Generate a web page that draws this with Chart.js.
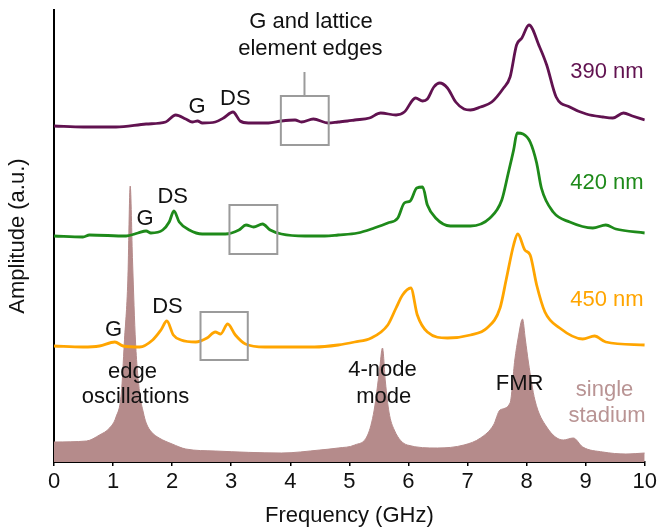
<!DOCTYPE html>
<html>
<head>
<meta charset="utf-8">
<script src="https://cdn.jsdelivr.net/npm/chart.js@4.4.1/dist/chart.umd.min.js"></script>
<style>
  html, body { margin: 0; padding: 0; background: #fff; }
  #spectra { display: block; }
</style>
</head>
<body>
<canvas id="spectra" width="660" height="529"></canvas>
<script>
// spectra, amplitude in arbitrary units (curves are offset)
const freq390 = [0, 0.5, 1.05, 1.56, 1.89, 2.06, 2.23, 2.34, 2.43, 2.51, 2.73, 2.87, 3.03, 3.15, 3.29, 3.63, 3.85, 4.08, 4.19, 4.39, 4.64, 4.81, 4.97, 5.09, 5.34, 5.53, 5.79, 5.93, 6.12, 6.24, 6.32, 6.43, 6.53, 6.66, 6.8, 6.94, 7.05, 7.22, 7.41, 7.61, 7.72, 7.83, 7.92, 8.04, 8.22, 8.34, 8.5, 8.73, 9.01, 9.29, 9.46, 9.64, 9.79, 10];
const amp390 = [336, 335, 335, 338, 340, 347, 343, 340, 341, 339, 340, 344, 350, 341, 339, 339, 341, 342, 340, 343, 339, 340, 341, 342, 344, 349, 347, 350, 364, 361, 363, 375, 379, 374, 360, 353, 352, 355, 360, 374, 385, 417, 424, 437, 415, 397, 365, 355, 348, 345, 344, 349, 346, 342];

const freq420 = [0, 0.49, 0.6, 1.22, 1.42, 1.56, 1.64, 1.84, 1.95, 2.03, 2.12, 2.29, 2.51, 2.9, 3.13, 3.25, 3.38, 3.53, 3.66, 3.85, 4.25, 4.58, 4.81, 5.14, 5.42, 5.65, 5.82, 5.93, 6.03, 6.14, 6.24, 6.32, 6.46, 6.71, 7.05, 7.38, 7.58, 7.69, 7.78, 7.84, 7.94, 8.06, 8.17, 8.25, 8.45, 8.73, 9.12, 9.34, 9.51, 10];
const amp420 = [226, 225, 227, 226, 229, 231, 229, 232, 240, 251, 240, 232, 228, 228, 232, 237, 235, 238, 232, 228, 226, 226, 227, 229, 234, 239, 244, 259, 261, 274, 275, 257, 244, 236, 236, 244, 262, 289, 312, 329, 328, 320, 299, 274, 250, 240, 234, 237, 233, 229];

const freq450 = [0, 0.49, 0.77, 1.03, 1.17, 1.45, 1.67, 1.81, 1.91, 2.02, 2.15, 2.4, 2.59, 2.73, 2.82, 2.94, 3.07, 3.24, 3.57, 4.41, 4.81, 5.09, 5.37, 5.65, 5.79, 5.9, 6.04, 6.15, 6.32, 6.66, 7.05, 7.33, 7.55, 7.66, 7.78, 7.85, 7.97, 8.06, 8.17, 8.31, 8.56, 8.95, 9.15, 9.34, 10];
const amp450 = [116, 115, 116, 120, 116, 115, 122, 132, 141, 127, 122, 120, 124, 130, 128, 138, 127, 118, 115, 115, 117, 120, 124, 137, 154, 167, 174, 147, 130, 124, 127, 134, 154, 184, 217, 228, 212, 207, 177, 150, 134, 123, 126, 120, 117];

const freqSingle = [0, 0.55, 0.77, 0.94, 1.05, 1.14, 1.19, 1.25, 1.29, 1.33, 1.38, 1.45, 1.51, 1.56, 1.65, 1.78, 2.0, 2.23, 2.73, 3.85, 4.5, 4.81, 5.09, 5.31, 5.42, 5.51, 5.56, 5.61, 5.67, 5.76, 5.98, 6.49, 6.94, 7.22, 7.44, 7.55, 7.72, 7.8, 7.86, 7.93, 7.98, 8.03, 8.14, 8.34, 8.62, 8.79, 8.95, 9.29, 9.68, 10];
const ampSingle = [20, 21, 27, 34, 45, 69, 119, 182, 276, 200, 120, 69, 50, 39, 30, 24, 18, 13, 11, 9, 12, 14, 17, 27, 52, 92, 114, 80, 50, 32, 17, 14, 17, 24, 37, 52, 59, 102, 125, 143, 122, 100, 62, 35, 22, 24, 15, 10, 8, 9];

const freqTicks = [0, 1, 2, 3, 4, 5, 6, 7, 8, 9, 10];
const seriesNames = ["390 nm", "420 nm", "450 nm", "single stadium"];

const FONT = "'Liberation Sans', Arial, sans-serif";
const purple = "#611250";
const green = "#1e8a1a";
const orange = "#ffa500";
const brown = "#b58b8b";

function points(xs, ys) {
  return xs.map((f, i) => ({ x: f, y: ys[i] }));
}

// text labels and boxes placed in data coordinates
const notes = [
  { text: "G and lattice", f: 4.35, a: 440, color: "#111" },
  { text: "element edges", f: 4.34, a: 413, color: "#111" },
  { text: "G", f: 2.42, a: 355, color: "#111" },
  { text: "DS", f: 3.07, a: 363, color: "#111" },
  { text: "G", f: 1.54, a: 243, color: "#111" },
  { text: "DS", f: 2.01, a: 265, color: "#111" },
  { text: "G", f: 1.01, a: 132, color: "#111" },
  { text: "DS", f: 1.92, a: 155, color: "#111" },
  { text: "edge", f: 1.33, a: 90, color: "#111" },
  { text: "oscillations", f: 1.38, a: 65, color: "#111" },
  { text: "4-node", f: 5.56, a: 92, color: "#111" },
  { text: "mode", f: 5.58, a: 65, color: "#111" },
  { text: "FMR", f: 7.88, a: 78, color: "#111" },
  { text: "single", f: 9.32, a: 72, color: "#b99494" },
  { text: "stadium", f: 9.36, a: 46, color: "#b99494" },
  { text: seriesNames[0], f: 9.36, a: 390, color: purple },
  { text: seriesNames[1], f: 9.36, a: 279, color: green },
  { text: seriesNames[2], f: 9.36, a: 162, color: orange },
];
const boxes = [
  { f0: 3.84, f1: 4.65, a0: 317, a1: 366 },
  { f0: 2.97, f1: 3.78, a0: 208, a1: 257 },
  { f0: 2.48, f1: 3.28, a0: 102, a1: 150 },
];
const connector = { f: 4.24, a0: 366, a1: 390 };

const notesPlugin = {
  id: "notes",
  afterDatasetsDraw(chart) {
    const { ctx, scales } = chart;
    const x = scales.x;
    const y = scales.y;
    ctx.save();
    ctx.strokeStyle = "#9b9b9b";
    ctx.lineWidth = 2;
    boxes.forEach((b) => {
      const x0 = x.getPixelForValue(b.f0);
      const x1 = x.getPixelForValue(b.f1);
      const y0 = y.getPixelForValue(b.a1);
      const y1 = y.getPixelForValue(b.a0);
      ctx.strokeRect(x0, y0, x1 - x0, y1 - y0);
    });
    ctx.beginPath();
    ctx.moveTo(x.getPixelForValue(connector.f), y.getPixelForValue(connector.a0));
    ctx.lineTo(x.getPixelForValue(connector.f), y.getPixelForValue(connector.a1));
    ctx.stroke();

    ctx.font = "22px " + FONT;
    ctx.textAlign = "center";
    ctx.textBaseline = "middle";
    notes.forEach((n) => {
      ctx.fillStyle = n.color;
      ctx.fillText(n.text, x.getPixelForValue(n.f), y.getPixelForValue(n.a));
    });
    ctx.restore();
  },
};

const ctx = document.getElementById("spectra").getContext("2d");
new Chart(ctx, {
  type: "line",
  data: {
    datasets: [
      { label: seriesNames[0], data: points(freq390, amp390), borderColor: purple, borderWidth: 2.8, fill: false },
      { label: seriesNames[1], data: points(freq420, amp420), borderColor: green, borderWidth: 2.8, fill: false },
      { label: seriesNames[2], data: points(freq450, amp450), borderColor: orange, borderWidth: 2.8, fill: false },
      { label: seriesNames[3], data: points(freqSingle, ampSingle), borderColor: brown, backgroundColor: brown, borderWidth: 1, fill: "origin" },
    ],
  },
  options: {
    responsive: false,
    animation: false,
    layout: { padding: { top: 10, right: 11, left: 0, bottom: 0 } },
    elements: { point: { radius: 0 }, line: { cubicInterpolationMode: "monotone" } },
    plugins: { legend: { display: false }, tooltip: { enabled: false } },
    scales: {
      x: {
        type: "linear",
        min: 0,
        max: 10,
        afterBuildTicks: (scale) => {
          scale.ticks = freqTicks.map((v) => ({ value: v }));
        },
        afterFit: (scale) => {
          scale.height = 67;
        },
        ticks: { color: "#111", font: { family: FONT, size: 22 }, padding: 3, maxRotation: 0 },
        grid: { display: true, drawOnChartArea: false, drawTicks: true, tickLength: 4, color: "#000", lineWidth: 1.5 },
        border: { color: "#000", width: 2 },
        title: { display: true, text: "Frequency (GHz)", color: "#111", font: { family: FONT, size: 22 }, padding: { top: 0, bottom: 0 } },
      },
      y: {
        min: 0,
        max: 452,
        afterFit: (scale) => {
          scale.width = 54;
        },
        ticks: { display: false },
        grid: { display: false },
        border: { color: "#000", width: 2 },
        title: { display: true, text: "Amplitude (a.u.)", color: "#111", font: { family: FONT, size: 22 }, padding: { top: 5, bottom: 0 } },
      },
    },
  },
  plugins: [notesPlugin],
});
</script>
</body>
</html>
